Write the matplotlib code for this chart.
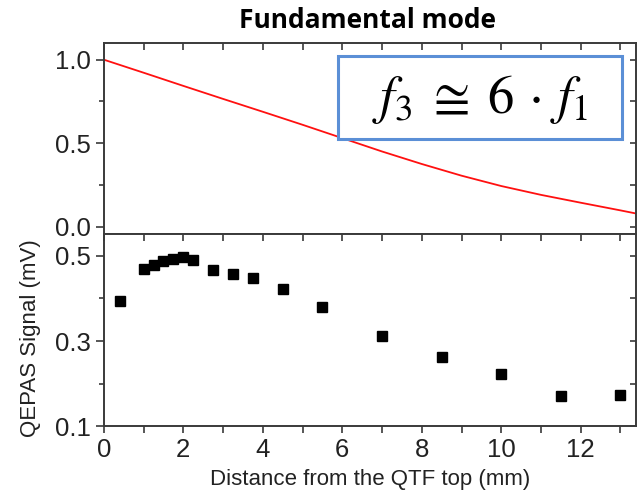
import matplotlib
matplotlib.use("Agg")
import matplotlib.pyplot as plt
from matplotlib.lines import TICKLEFT, TICKDOWN
from matplotlib.patches import Rectangle
from matplotlib.ticker import MultipleLocator

plt.rcParams["font.family"] = ["Liberation Sans", "DejaVu Sans"]
plt.rcParams["mathtext.fontset"] = "stix"

# mode shape (top panel)
shape_x = [0, 1, 2, 3, 4, 5, 6, 7, 8, 9, 10, 11, 12, 13, 13.4]
shape_y = [1.0, 0.922, 0.843, 0.765, 0.688, 0.61, 0.53, 0.45, 0.375,
           0.305, 0.243, 0.19, 0.143, 0.097, 0.078]

# measured QEPAS signal (bottom panel)
dist = [0.4, 1.0, 1.25, 1.5, 1.75, 2.0, 2.25, 2.75, 3.25, 3.75, 4.5,
        5.5, 7.0, 8.5, 10.0, 11.5, 13.0]
signal = [0.394, 0.470, 0.479, 0.488, 0.492, 0.496, 0.490, 0.467, 0.458,
          0.448, 0.421, 0.380, 0.313, 0.262, 0.223, 0.171, 0.173]

spine_col = "#3a3a3a"
txt_col = "#222222"

fig = plt.figure(figsize=(6.37, 4.97), dpi=100)
ax1 = fig.add_axes([0.163, 0.529, 0.836, 0.3845])
ax2 = fig.add_axes([0.163, 0.1419, 0.836, 0.3873])

ax1.plot(shape_x, shape_y, color="#ff1010", lw=1.3)
ax2.plot(dist, signal, "s", color="black", markersize=7.8)

for ax in (ax1, ax2):
    ax.set_xlim(0, 13.4)
    for s in ax.spines.values():
        s.set_color(spine_col)
        s.set_linewidth(1.4)
    ax.xaxis.set_major_locator(MultipleLocator(2))
    ax.xaxis.set_minor_locator(MultipleLocator(1))
    ax.tick_params(which="both", colors=spine_col, labelcolor=txt_col,
                   labelsize=18.5, width=1.2)
    ax.tick_params(axis="y", which="both", left=True, right=True)
    ax.tick_params(axis="y", which="major", direction="out", length=6)
    ax.tick_params(axis="y", which="minor", direction="out", length=3.5)

ax1.set_ylim(-0.045, 1.1)
ax1.yaxis.set_major_locator(MultipleLocator(0.5))
ax1.yaxis.set_minor_locator(MultipleLocator(0.25))
ax1.tick_params(axis="x", which="both", bottom=False, labelbottom=False,
                top=True, direction="in", length=5)

ax2.set_ylim(0.1, 0.551)
ax2.set_yticks([0.1, 0.3, 0.5])
ax2.set_yticks([0.2, 0.4], minor=True)
ax2.tick_params(axis="x", which="both", bottom=True, top=False,
                direction="out", length=5)

# right ticks point inward, bottom panel top ticks point down
for ax in (ax1, ax2):
    for t in ax.yaxis.get_major_ticks() + ax.yaxis.get_minor_ticks():
        t.tick2line.set_marker(TICKLEFT)
        t.tick2line.set_markersize(4)
for t in ax2.xaxis.get_major_ticks() + ax2.xaxis.get_minor_ticks():
    t.tick2line.set_visible(True)
    t.tick2line.set_marker(TICKDOWN)
    t.tick2line.set_markersize(5)

ax2.set_xlabel("Distance from the QTF top (mm)", fontsize=16, color=txt_col,
               labelpad=5)
ax2.set_ylabel("QEPAS Signal (mV)", fontsize=16, color=txt_col)
ax2.yaxis.set_label_coords(-0.118, 0.46)

fig.text(0.577, 0.958, "Fundamental mode", ha="center", va="center",
         fontsize=19, fontweight="bold", family="Open Sans")

ax1.add_patch(Rectangle((0.4395, 0.497), 0.5334, 0.435,
                        transform=ax1.transAxes, facecolor="white",
                        edgecolor="#5b8fd6", lw=2.2, zorder=5))
ax1.text(0.706, 0.705, r"$f_3\;\cong\;6\,\cdot\,f_1$",
         transform=ax1.transAxes, ha="center", va="center", fontsize=38,
         zorder=6)

fig.savefig("out.png", dpi=100)
